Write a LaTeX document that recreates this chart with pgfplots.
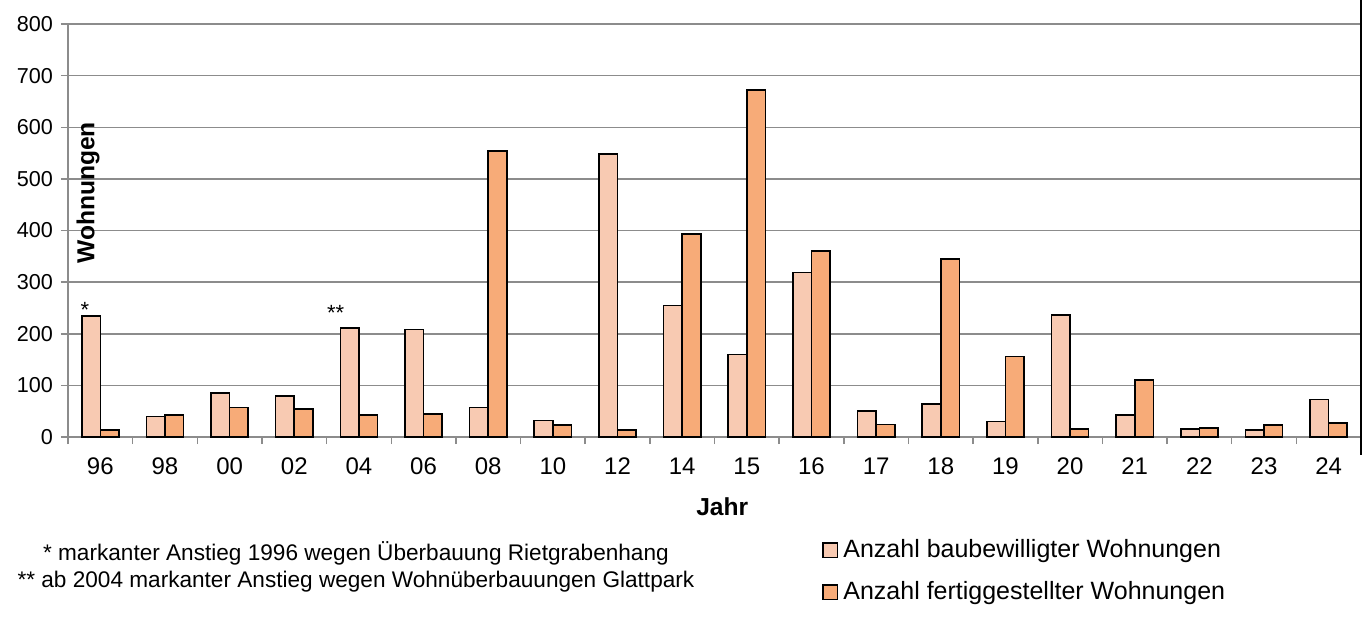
\documentclass[border=0pt]{standalone}
\usepackage{pgfplots}
\pgfplotsset{compat=1.18}
\usepackage{fontspec}
\setmainfont{Liberation Sans}

\definecolor{hell}{HTML}{F8CAB2}
\definecolor{dunkel}{HTML}{F7AB78}
\definecolor{gitter}{HTML}{8C8C8C}

% Wohnungen pro Jahr (baubewilligt / fertiggestellt)
\pgfplotstableread{
x bew fert
0  234 13
1  40  43
2  85  57
3  80  54
4  211 43
5  208 44
6  57  554
7  32  23
8  548 13
9  255 393
10 160 672
11 319 360
12 50  24
13 64  345
14 30  156
15 236 15
16 43  110
17 16  17
18 13  23
19 73  27
}\wohnungen

\begin{document}
\begin{tikzpicture}
\path[use as bounding box] (-34pt,-94.5pt) rectangle (647.5pt,218.5pt);
\begin{axis}[
    scale only axis,
    width=646.5pt, height=206.5pt,
    xmin=-0.5, xmax=19.5,
    ymin=0, ymax=800,
    ybar=0pt, bar width=9.3pt,
    axis x line*=bottom, axis y line*=left,
    axis line style={gitter, line width=0.75pt, -},
    xtick={0,...,19},
    xticklabels={96,98,00,02,04,06,08,10,12,14,15,16,17,18,19,20,21,22,23,24},
    minor xtick={-0.5,0.5,...,19.5},
    major x tick style={draw=none},
    tick align=outside,
    tick style={gitter, line width=0.75pt},
    major tick length=3.5pt, minor tick length=3.5pt,
    ytick={0,100,...,800},
    ymajorgrids, grid style={gitter, line width=0.75pt},
    /pgf/number format/assume math mode=true,
    xticklabel style={font=\fontsize{12}{14}\selectfont, anchor=center, yshift=-11pt},
    yticklabel style={font=\fontsize{10.8}{13}\selectfont, anchor=east, xshift=-0.5pt},
    xlabel={\textbf{Jahr}},
    xlabel style={font=\fontsize{12.3}{14}\selectfont, at={(axis description cs:0.506,0)}, anchor=center, yshift=-35pt},
    ylabel={\textbf{Wohnungen}},
    ylabel style={font=\fontsize{12.3}{14}\selectfont, at={(axis description cs:0.0155,0.591)}, anchor=center},
    legend style={draw=none, fill=none, at={(axis description cs:0.5830,-0.238)}, anchor=north west,
        font=\fontsize{12.5}{14}\selectfont, row sep=6.5pt, inner sep=0pt,
        nodes={inner xsep=2.5pt}},
    legend cell align=left,
    legend image code/.code={\draw[#1, line width=0.7pt] (0pt,-3.7pt) rectangle (7.4pt,3.7pt);},
    clip=false,
]
\addplot[draw=black, line width=0.8pt, fill=hell] table[x=x, y=bew] {\wohnungen};
\addplot[draw=black, line width=0.8pt, fill=dunkel] table[x=x, y=fert] {\wohnungen};
\legend{Anzahl baubewilligter Wohnungen, Anzahl fertiggestellter Wohnungen}

\node[font=\fontsize{11}{13}\selectfont] at (axis cs:-0.24,246) {*};
\node[font=\fontsize{11}{13}\selectfont] at (axis cs:3.64,240) {**};
\draw[black, line width=0.8pt] ([yshift=12pt]rel axis cs:1,1) -- ([yshift=-9pt]rel axis cs:1,0);
\node[font=\fontsize{11.3}{13.5}\selectfont, align=center, anchor=center]
    at ([yshift=-65pt]axis description cs:0.2227,0)
    {* markanter Anstieg 1996 wegen Überbauung Rietgrabenhang\\
     ** ab 2004 markanter Anstieg wegen Wohnüberbauungen Glattpark};
\end{axis}
\end{tikzpicture}
\end{document}
